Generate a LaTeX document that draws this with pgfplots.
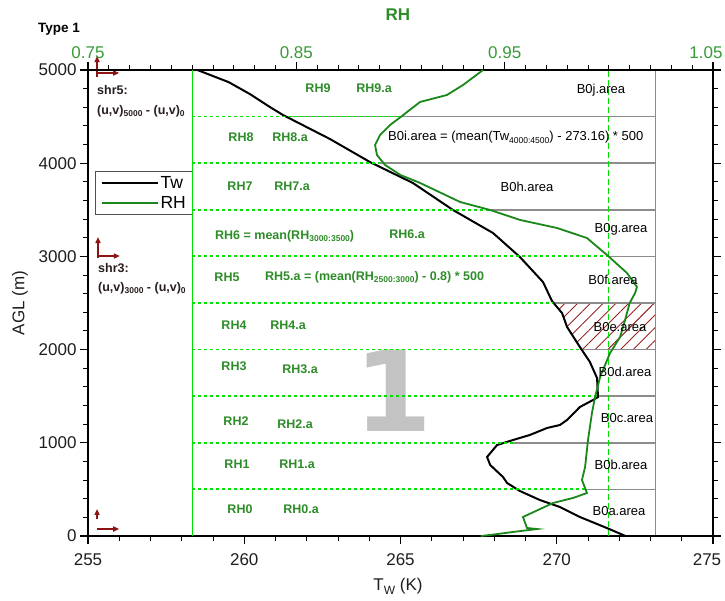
\documentclass[border=0pt]{standalone}
\usepackage{fontspec}
\setmainfont{Liberation Sans}
\newfontfamily\djv{DejaVu Sans}
\usepackage{pgfplots}
\pgfplotsset{compat=1.18}
\usetikzlibrary{patterns.meta,arrows.meta}

\definecolor{rhgreen}{RGB}{25,135,25}
\definecolor{lblgreen}{RGB}{45,140,40}
\definecolor{mylime}{RGB}{0,225,0}
\definecolor{arrowred}{RGB}{140,20,20}
\definecolor{hatchred}{RGB}{150,35,35}
\definecolor{grayline}{RGB}{140,140,140}
\definecolor{tickc}{RGB}{30,30,30}
\definecolor{toptick}{RGB}{55,155,55}
\definecolor{bigone}{RGB}{195,195,195}
\definecolor{shrc}{RGB}{40,30,30}

\newcommand\sub[1]{\raisebox{-0.4ex}{\fontsize{8.5bp}{9bp}\selectfont #1}}

\begin{document}
\begin{tikzpicture}
\useasboundingbox (-88bp,-65bp) rectangle (637bp,536bp);
\pgfplotsset{
  common/.style={
    scale only axis, width=625bp, height=466bp,
    at={(0bp,0bp)}, anchor=south west,
    ymin=0, ymax=5000,
    clip=false,
    tick align=outside,
    major tick length=8bp, minor tick length=5bp,
    /pgf/number format/assume math mode=true,
    /pgf/number format/1000 sep={},
    ticklabel style={font=\fontsize{17bp}{20bp}\selectfont},
    axis line style={line width=1.2bp},
    major tick style={line width=1.2bp, black},
    minor tick style={line width=1bp, black},
  }
}
\begin{axis}[common,
  xmin=255, xmax=275,
  xtick={255,260,...,275}, minor x tick num=4,
  xticklabels={255,260,265,270,\hspace*{-12bp}275},
  ytick={0,1000,...,5000}, minor y tick num=4,
  xtick pos=bottom, ytick pos=both, yticklabel pos=left,
  scaled y ticks=false, scaled x ticks=false,
  ticklabel style={text=tickc},
  xticklabel style={yshift=-6bp},
  legend style={at={(0.0112,0.7833)}, anchor=north west,
    draw={rgb,255:red,80;green,80;blue,80}, line width=1.2bp, fill=white,
    font=\fontsize{17.5bp}{18bp}\selectfont,
    inner xsep=5bp, inner ysep=2.5bp, row sep=3bp},
  legend cell align=left,
  legend image code/.code={\draw[#1, line width=1.8bp] (0bp,0bp) -- (45bp,0bp); \path (0bp,0bp) -- (56bp,0bp);},
]
% hatched region 2000-2500 between Tw and 273.16
\addplot[draw=none, forget plot, pattern={Lines[angle=45,distance=9bp,line width=0.9bp]}, pattern color=hatchred]
  coordinates {(270.80,2000) (270.74,2028) (270.33,2243) (270.17,2392) (269.88,2500) (273.16,2500) (273.16,2000)} -- cycle;
% gray level lines
\addplot[grayline, line width=1.6bp, forget plot] coordinates {(270.90,500) (273.16,500)};
\addplot[grayline, line width=1.6bp, forget plot] coordinates {(268.60,1000) (273.16,1000)};
\addplot[grayline, line width=1.6bp, forget plot] coordinates {(271.29,1500) (273.16,1500)};
\addplot[grayline, line width=1.6bp, forget plot] coordinates {(270.74,2000) (273.16,2000)};
\addplot[grayline, line width=1.6bp, forget plot] coordinates {(269.88,2500) (273.16,2500)};
\addplot[grayline, line width=1.6bp, forget plot] coordinates {(271.61,3000) (273.16,3000)};
\addplot[grayline, line width=1.6bp, forget plot] coordinates {(267.86,3500) (273.16,3500)};
\addplot[grayline, line width=1.6bp, forget plot] coordinates {(264.31,4000) (273.16,4000)};
\addplot[grayline, line width=1.6bp, forget plot] coordinates {(261.24,4500) (273.16,4500)};
\addplot[grayline, line width=1.1bp, forget plot] coordinates {(273.16,0) (273.16,5000)};
% big 1
\node[text=bigone, font=\djv\bfseries\fontsize{112bp}{112bp}\selectfont, inner sep=0] at (axis cs:264.79,1560) {1};
% Tw profile
\addplot[black, line width=2bp] coordinates {
(272.2,0) (271.6,86) (270.74,204) (270.1,311) (269.46,386) (268.82,483) (268.41,569)
(268.28,633) (267.87,762) (267.77,848) (268.09,976) (268.6,1030) (269.14,1084)
(269.69,1159) (270.1,1191) (270.33,1245) (270.74,1384) (271.16,1459) (271.32,1491)
(271.29,1695) (271.06,1867) (270.74,2028) (270.33,2243) (270.17,2392) (269.85,2520)
(269.56,2725) (268.82,2994) (267.96,3251) (266.68,3498) (265.4,3787) (264.02,4013)
(262.74,4260) (261.24,4517) (260.82,4603) (260.18,4742) (259.5,4870) (258.5,5000)};
\addlegendentry{Tw}
\addlegendimage{rhgreen, line width=1.8bp}
\addlegendentry{RH}
% shear arrows
\draw[arrowred, line width=1.6bp, -{Triangle[length=6bp,width=5bp]}] (axis cs:255.29,4925) -- (axis cs:255.29,5150);
\draw[arrowred, line width=1.6bp, -{Triangle[length=6bp,width=5bp]}] (axis cs:255.29,4968) -- (axis cs:256.0,4968);
\draw[arrowred, line width=1.6bp, -{Triangle[length=6bp,width=5bp]}] (axis cs:255.32,2983) -- (axis cs:255.32,3208);
\draw[arrowred, line width=1.6bp, -{Triangle[length=6bp,width=5bp]}] (axis cs:255.32,3004) -- (axis cs:256.02,3004);
\draw[arrowred, line width=1.6bp, -{Triangle[length=6bp,width=5bp]}] (axis cs:255.29,182) -- (axis cs:255.29,290);
\draw[arrowred, line width=1.6bp, -{Triangle[length=6bp,width=5bp]}] (axis cs:255.29,75) -- (axis cs:256.0,75);
% thick left and bottom axis lines
\draw[line width=2.6bp, black] (rel axis cs:0,1) -- (rel axis cs:0,0) -- (rel axis cs:1,0);
\end{axis}

\begin{axis}[common,
  xmin=0.75, xmax=1.05,
  axis x line*=top, axis y line=none,
  xtick={0.75,0.85,0.95,1.05}, minor x tick num=9,
  xticklabels={0.75,0.85,0.95,\hspace*{-14bp}1.05},
  xticklabel style={text=toptick},
]
% dotted level lines
\addplot[mylime, line width=1.8bp, dash pattern=on 3bp off 3bp] coordinates {(0.8,500) (0.9886,500)};
\addplot[mylime, line width=1.8bp, dash pattern=on 3bp off 3bp] coordinates {(0.8,1000) (0.954,1000)};
\addplot[mylime, line width=1.8bp, dash pattern=on 3bp off 3bp] coordinates {(0.8,1500) (0.9943,1500)};
\addplot[mylime, line width=1.8bp, dash pattern=on 3bp off 3bp] coordinates {(0.8,2000) (0.9862,2000)};
\addplot[mylime, line width=1.8bp, dash pattern=on 3bp off 3bp] coordinates {(0.8,2500) (0.9732,2500)};
\addplot[mylime, line width=1.8bp, dash pattern=on 3bp off 3bp] coordinates {(0.8,3000) (0.9991,3000)};
\addplot[mylime, line width=1.8bp, dash pattern=on 3bp off 3bp] coordinates {(0.8,3500) (0.943,3500)};
\addplot[mylime, line width=1.8bp, dash pattern=on 3bp off 3bp] coordinates {(0.8,4000) (0.8897,4000)};
\addplot[mylime, line width=1.8bp, dash pattern=on 3bp off 3bp] coordinates {(0.8,4500) (0.9007,4500)};
% vertical RH reference lines
\addplot[mylime, line width=0.9bp] coordinates {(0.8,0) (0.8,5000)};
\addplot[mylime, line width=0.9bp, dash pattern=on 6bp off 3bp] coordinates {(1.0,0) (1.0,5000)};
% RH profile
\addplot[rhgreen, line width=1.8bp] coordinates {
(0.9385,0) (0.943,11) (0.954,43) (0.9655,75) (0.9607,86) (0.9588,204) (0.9732,354)
(0.9828,408) (0.9895,461) (0.9871,601) (0.9886,740) (0.99,1030) (0.9919,1320)
(0.9934,1491) (0.9958,1706) (1.0006,1964) (1.0054,2135) (1.0078,2318) (1.01,2500)
(1.0126,2607) (1.0135,2672) (1.0087,2822) (0.9991,3015) (0.9895,3197) (0.9751,3305)
(0.9574,3391) (0.943,3498) (0.9286,3584) (0.9094,3788) (0.9,3873) (0.8926,3981)
(0.8887,4088) (0.8878,4195) (0.8902,4302) (0.895,4410) (0.9007,4506) (0.9031,4549)
(0.9094,4657) (0.9223,4732) (0.93,4839) (0.9396,5000)};
\end{axis}

\begin{scope}[x=1bp,y=-1bp,shift={(-88bp,536bp)}]
\tikzset{gl/.style={text=lblgreen, font=\bfseries\fontsize{12.5bp}{14bp}\selectfont, inner sep=0},
         bl/.style={text=black, font=\fontsize{13bp}{14bp}\selectfont, inner sep=0},
         sl/.style={text=shrc, font=\bfseries\fontsize{12.5bp}{14bp}\selectfont, inner sep=0, anchor=west}}
% titles and axis labels
\node[text=lblgreen, font=\bfseries\fontsize{17bp}{18bp}\selectfont] at (398,14.5) {RH};
\node[anchor=west, font=\bfseries\fontsize{13.5bp}{14bp}\selectfont, inner sep=0] at (38,29) {Type 1};
\node[font=\fontsize{17bp}{18bp}\selectfont, text=tickc] at (398,586) {T\raisebox{-0.45ex}{\fontsize{12bp}{12bp}\selectfont W} (K)};
\node[font=\fontsize{17bp}{18bp}\selectfont, text=tickc, rotate=90] at (20,303) {AGL (m)};
% green labels
\node[gl] at (318,88) {RH9}; \node[gl] at (374,88) {RH9.a};
\node[gl] at (241,137) {RH8}; \node[gl] at (290,137) {RH8.a};
\node[gl] at (240,186) {RH7}; \node[gl] at (292,186) {RH7.a};
\node[gl, anchor=west] at (215,236) {RH6 = mean(RH\sub{3000:3500})}; \node[gl] at (407,234) {RH6.a};
\node[gl] at (227,277) {RH5}; \node[gl, anchor=west] at (265,277) {RH5.a = (mean(RH\sub{2500:3000}) - 0.8) * 500};
\node[gl] at (234,325) {RH4}; \node[gl] at (288,325) {RH4.a};
\node[gl] at (234,366) {RH3}; \node[gl] at (300,369) {RH3.a};
\node[gl] at (236,421) {RH2}; \node[gl] at (295,424) {RH2.a};
\node[gl] at (237,464) {RH1}; \node[gl] at (297,464) {RH1.a};
\node[gl] at (240,509) {RH0}; \node[gl] at (301,509) {RH0.a};
% black labels
\node[bl] at (601,90) {B0j.area};
\node[bl, anchor=west] at (388,137) {B0i.area = (mean(Tw\sub{4000:4500}) - 273.16) * 500};
\node[bl] at (527,187) {B0h.area};
\node[bl] at (621,229) {B0g.area};
\node[bl] at (613,280) {B0f.area};
\node[bl] at (620,327) {B0e.area};
\node[bl] at (625,372) {B0d.area};
\node[bl] at (627,418) {B0c.area};
\node[bl] at (621,465) {B0b.area};
\node[bl] at (619,511) {B0a.area};
% shear labels
\node[sl] at (97,90) {shr5:};
\node[sl] at (97,111) {(u,v)\sub{5000} - (u,v)\sub{0}};
\node[sl] at (98,268) {shr3:};
\node[sl] at (98,288) {(u,v)\sub{3000} - (u,v)\sub{0}};
\end{scope}
\end{tikzpicture}
\end{document}
